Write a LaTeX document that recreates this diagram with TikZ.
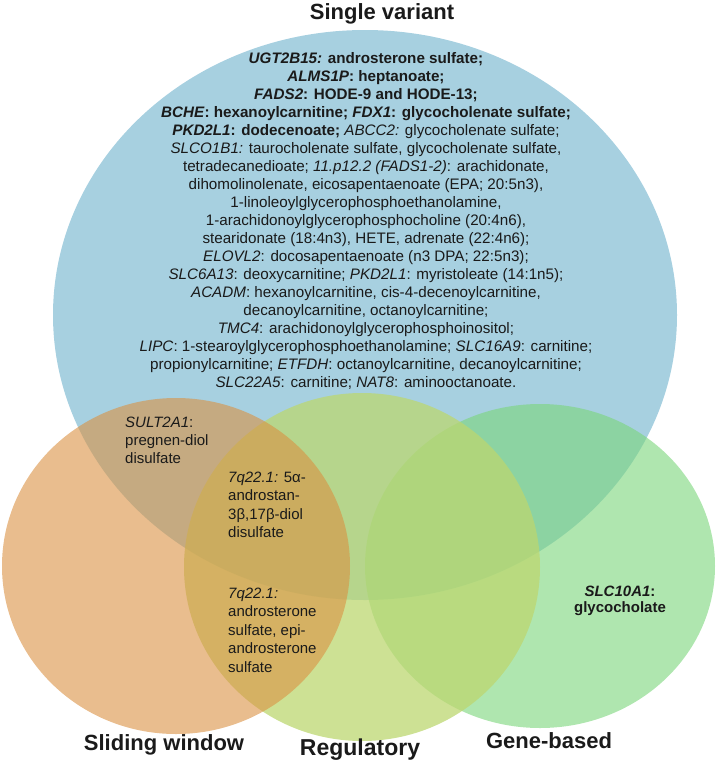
\documentclass[tikz,border=0pt]{standalone}
\usepackage{fontspec}
\setmainfont{Liberation Sans}
\usetikzlibrary{shapes.geometric}
\definecolor{singlefill}{RGB}{167,208,224}
\definecolor{slidefill}{RGB}{218,145,66}
\definecolor{regfill}{RGB}{188,215,112}
\definecolor{genefill}{RGB}{122,213,122}
\definecolor{inkc}{RGB}{26,26,26}

\begin{document}
\begin{tikzpicture}[x = 1pt, y = -1pt,
        setshape/.style = {ellipse, inner sep = 0pt, outer sep = 0pt, draw = none},
        setname/.style = {font = \fontsize{22}{26}\selectfont\bfseries, text = inkc, inner sep = 0pt},
        hittext/.style = {font = \fontsize{15}{18.5}\selectfont, text = inkc, inner sep = 0pt, align = left, anchor = west}]
            \useasboundingbox (0, 0) rectangle (717, 769);

            % sets, back to front
            \node[setshape, fill = singlefill, minimum width = 624pt, minimum height = 570pt] (single) at (365, 315) {};
            \node[setshape, fill = genefill, fill opacity = .6, minimum width = 350pt, minimum height = 324pt] (gene) at (540, 566) {};
            \node[setshape, fill = regfill, fill opacity = .75, minimum width = 356pt, minimum height = 348pt] (reg) at (362, 567) {};
            \node[setshape, fill = slidefill, fill opacity = .6, minimum width = 348pt, minimum height = 336pt] (slide) at (176, 566) {};

            % set names
            \node[setname] at ([xshift = 17pt, yshift = 16pt]single.north) (namesingle) {Single variant};
            \foreach \set/\name/\sz/\dx/\dy in {slide/Sliding window/22/-12/0, reg/Regulatory/23/-2/2, gene/Gene-based/22/9/-4}
                {
                    \node[setname, anchor = north, font = \fontsize{\sz}{26}\selectfont\bfseries] at ([xshift = \dx pt, yshift = \dy pt]\set.south) (name\set) {\name};
                }

            \node[hittext, anchor = center, align = center, font = \fontsize{15.2}{18}\selectfont] at ([xshift = 1pt, yshift = 94pt]single.center) (hitsingle) {%
                \textbf{\textit{UGT2B15:} androsterone sulfate;}\\
                \textbf{\textit{ALMS1P}: heptanoate;}\\
                \textbf{\textit{FADS2}: HODE-9 and HODE-13;}\\
                \textbf{\textit{BCHE}: hexanoylcarnitine; \textit{FDX1}: glycocholenate sulfate;}\\
                \textbf{\textit{PKD2L1}: dodecenoate;} \textit{ABCC2:} glycocholenate sulfate;\\
                \textit{SLCO1B1:} taurocholenate sulfate, glycocholenate sulfate,\\
                tetradecanedioate; \textit{11.p12.2 (FADS1-2)}: arachidonate,\\
                dihomolinolenate, eicosapentaenoate (EPA; 20:5n3),\\
                1-linoleoylglycerophosphoethanolamine,\\
                1-arachidonoylglycerophosphocholine (20:4n6),\\
                stearidonate (18:4n3), HETE, adrenate (22:4n6);\\
                \textit{ELOVL2}: docosapentaenoate (n3 DPA; 22:5n3);\\
                \textit{SLC6A13}: deoxycarnitine; \textit{PKD2L1}: myristoleate (14:1n5);\\
                \textit{ACADM}: hexanoylcarnitine, cis-4-decenoylcarnitine,\\
                decanoylcarnitine, octanoylcarnitine;\\
                \textit{TMC4}: arachidonoylglycerophosphoinositol;\\
                \textit{LIPC}: 1-stearoylglycerophosphoethanolamine; \textit{SLC16A9}: carnitine;\\
                propionylcarnitine; \textit{ETFDH}: octanoylcarnitine, decanoylcarnitine;\\
                \textit{SLC22A5}: carnitine; \textit{NAT8}: aminooctanoate.};

            \node[hittext, font = \fontsize{15}{18}\selectfont] at (125, 440) (hitsult) {\textit{SULT2A1}:\\pregnen-diol\\disulfate};
            \node[hittext] at (228, 505) (hitdiol) {\textit{7q22.1:} 5α-\\androstan-\\3β,17β-diol\\disulfate};
            \node[hittext] at (228, 630) (hitandro) {\textit{7q22.1:}\\androsterone\\sulfate, epi-\\androsterone\\sulfate};
            \node[hittext, anchor = center, align = center, font = \fontsize{15}{16.5}\selectfont\bfseries] at (620, 601) (hitslc) {\textit{SLC10A1}:\\glycocholate};
        \end{tikzpicture}
\end{document}
